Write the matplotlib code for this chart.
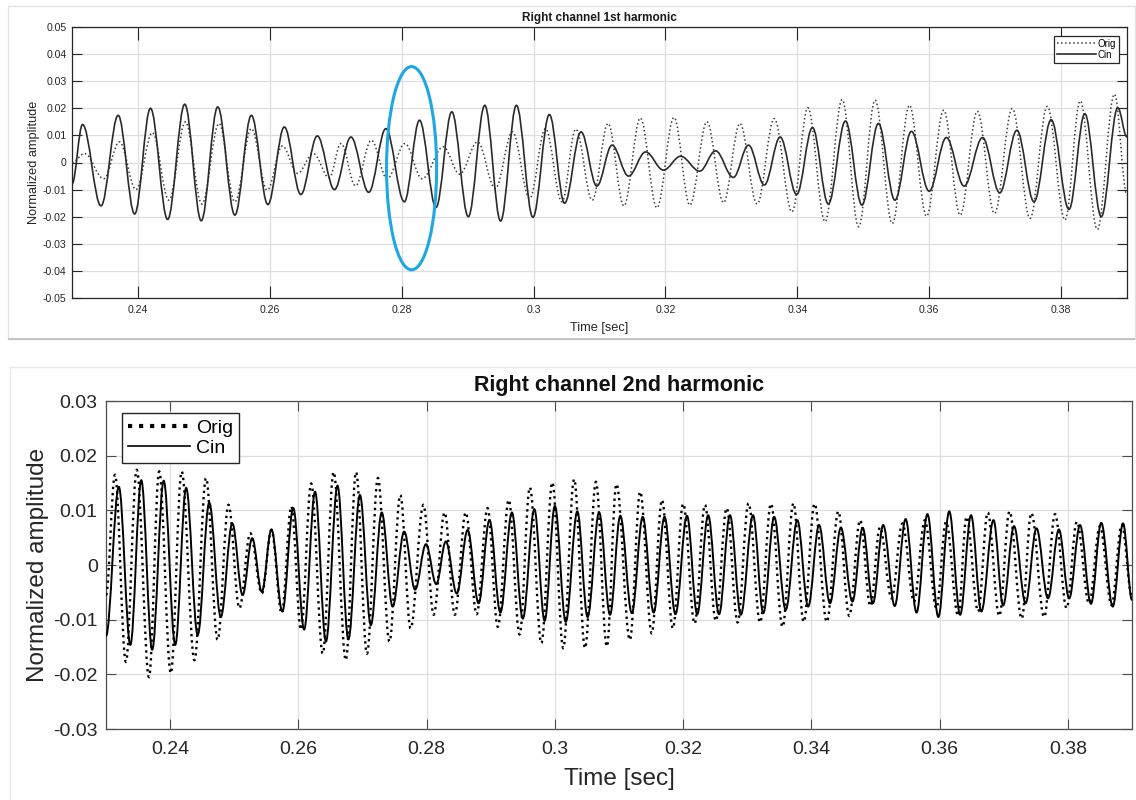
import numpy as np
import matplotlib
matplotlib.use("Agg")
import matplotlib.pyplot as plt
from matplotlib.path import Path
from matplotlib.patches import PathPatch, Ellipse, Rectangle
from matplotlib.lines import Line2D
from matplotlib.ticker import FuncFormatter

plt.rcParams['font.family'] = ['Liberation Sans', 'DejaVu Sans']

# extremes (peaks / troughs), time [s] and amplitude
h1_cin_t = [0.2300, 0.2316, 0.2344, 0.2370, 0.2395, 0.2419, 0.2445, 0.2471, 0.2496, 0.2521,
            0.2547, 0.2572, 0.2597, 0.2622, 0.2647, 0.2672, 0.2698, 0.2723, 0.2750, 0.2776,
            0.2804, 0.2827, 0.2852, 0.2876, 0.2901, 0.2926, 0.2950, 0.2974, 0.2999, 0.3024,
            0.3047, 0.3072, 0.3096, 0.3119, 0.3144, 0.3170, 0.3197, 0.3223, 0.3252, 0.3276,
            0.3303, 0.3326, 0.3350, 0.3374, 0.3399, 0.3423, 0.3447, 0.3473, 0.3498, 0.3523,
            0.3548, 0.3573, 0.3600, 0.3626, 0.3653, 0.3681, 0.3707, 0.3733, 0.3759, 0.3785,
            0.3812, 0.3836, 0.3861, 0.3886, 0.3900]
h1_cin_v = [-0.0080, 0.0140, -0.0160, 0.0174, -0.0190, 0.0200, -0.0210, 0.0215, -0.0215, 0.0205,
            -0.0194, 0.0174, -0.0155, 0.0131, -0.0118, 0.0098, -0.0100, 0.0094, -0.0110, 0.0125,
            -0.0145, 0.0156, -0.0166, 0.0187, -0.0200, 0.0211, -0.0216, 0.0211, -0.0202, 0.0177,
            -0.0150, 0.0113, -0.0087, 0.0064, -0.0050, 0.0039, -0.0028, 0.0023, -0.0032, 0.0043,
            -0.0055, 0.0064, -0.0083, 0.0094, -0.0118, 0.0129, -0.0153, 0.0153, -0.0157, 0.0144,
            -0.0139, 0.0115, -0.0106, 0.0092, -0.0087, 0.0092, -0.0112, 0.0119, -0.0145, 0.0158,
            -0.0173, 0.0180, -0.0200, 0.0202, 0.0094]

h1_orig_t = [0.2300, 0.2319, 0.2348, 0.2372, 0.2397, 0.2422, 0.2447, 0.2472, 0.2497, 0.2523,
             0.2547, 0.2572, 0.2596, 0.2619, 0.2642, 0.2666, 0.2690, 0.2708, 0.2730, 0.2754,
             0.2778, 0.2805, 0.2831, 0.2863, 0.2888, 0.2915, 0.2942, 0.2968, 0.2994, 0.3018,
             0.3043, 0.3064, 0.3089, 0.3113, 0.3137, 0.3162, 0.3187, 0.3213, 0.3237, 0.3263,
             0.3288, 0.3313, 0.3339, 0.3365, 0.3392, 0.3416, 0.3442, 0.3468, 0.3493, 0.3518,
             0.3544, 0.3570, 0.3596, 0.3622, 0.3647, 0.3673, 0.3699, 0.3726, 0.3753, 0.3779,
             0.3806, 0.3829, 0.3855, 0.3881, 0.3900]
h1_orig_v = [0.0000, 0.0033, -0.0060, 0.0076, -0.0100, 0.0110, -0.0139, 0.0150, -0.0153, 0.0144,
             -0.0145, 0.0125, -0.0102, 0.0061, -0.0040, 0.0033, -0.0056, 0.0070, -0.0086, 0.0082,
             -0.0060, 0.0070, -0.0060, 0.0058, -0.0043, 0.0076, -0.0096, 0.0113, -0.0133, 0.0125,
             -0.0145, 0.0123, -0.0139, 0.0144, -0.0160, 0.0164, -0.0167, 0.0166, -0.0157, 0.0150,
             -0.0148, 0.0144, -0.0153, 0.0162, -0.0182, 0.0202, -0.0218, 0.0232, -0.0237, 0.0230,
             -0.0225, 0.0211, -0.0198, 0.0193, -0.0194, 0.0189, -0.0188, 0.0199, -0.0206, 0.0207,
             -0.0212, 0.0227, -0.0247, 0.0252, -0.0120]

h2_cin_t = [0.2300, 0.2320, 0.2338, 0.2355, 0.2372, 0.2390, 0.2408, 0.2425, 0.2443, 0.2461,
            0.2479, 0.2497, 0.2513, 0.2528, 0.2543, 0.2558, 0.2575, 0.2592, 0.2609, 0.2626,
            0.2643, 0.2661, 0.2678, 0.2696, 0.2713, 0.2730, 0.2747, 0.2765, 0.2782, 0.2799,
            0.2815, 0.2830, 0.2847, 0.2864, 0.2881, 0.2898, 0.2915, 0.2933, 0.2950, 0.2968,
            0.2984, 0.3000, 0.3017, 0.3035, 0.3051, 0.3069, 0.3086, 0.3102, 0.3120, 0.3137,
            0.3154, 0.3171, 0.3188, 0.3206, 0.3222, 0.3239, 0.3256, 0.3273, 0.3290, 0.3309,
            0.3325, 0.3342, 0.3360, 0.3378, 0.3395, 0.3412, 0.3429, 0.3446, 0.3464, 0.3480,
            0.3496, 0.3512, 0.3530, 0.3547, 0.3564, 0.3581, 0.3598, 0.3615, 0.3632, 0.3649,
            0.3665, 0.3684, 0.3699, 0.3716, 0.3734, 0.3751, 0.3769, 0.3786, 0.3802, 0.3819,
            0.3836, 0.3852, 0.3870, 0.3886, 0.3900]
h2_cin_v = [-0.0130, 0.0143, -0.0146, 0.0155, -0.0155, 0.0154, -0.0146, 0.0141, -0.0128, 0.0114,
            -0.0095, 0.0076, -0.0055, 0.0049, -0.0049, 0.0065, -0.0085, 0.0104, -0.0118, 0.0134,
            -0.0140, 0.0145, -0.0136, 0.0128, -0.0110, 0.0096, -0.0076, 0.0061, -0.0045, 0.0038,
            -0.0035, 0.0043, -0.0052, 0.0064, -0.0070, 0.0082, -0.0087, 0.0096, -0.0098, 0.0102,
            -0.0102, 0.0108, -0.0104, 0.0098, -0.0095, 0.0096, -0.0091, 0.0090, -0.0088, 0.0088,
            -0.0087, 0.0088, -0.0090, 0.0090, -0.0090, 0.0091, -0.0090, 0.0091, -0.0091, 0.0091,
            -0.0088, 0.0088, -0.0082, 0.0082, -0.0076, 0.0073, -0.0070, 0.0068, -0.0067, 0.0068,
            -0.0070, 0.0073, -0.0075, 0.0084, -0.0087, 0.0093, -0.0095, 0.0098, -0.0091, 0.0091,
            -0.0085, 0.0082, -0.0074, 0.0071, -0.0070, 0.0067, -0.0061, 0.0065, -0.0061, 0.0073,
            -0.0071, 0.0077, -0.0076, 0.0076, -0.0064]

h2_orig_t = [0.2300, 0.2314, 0.2331, 0.2348, 0.2367, 0.2383, 0.2401, 0.2418, 0.2438, 0.2456,
             0.2474, 0.2491, 0.2508, 0.2525, 0.2543, 0.2558, 0.2574, 0.2589, 0.2604, 0.2620,
             0.2638, 0.2655, 0.2674, 0.2690, 0.2707, 0.2724, 0.2742, 0.2759, 0.2775, 0.2795,
             0.2811, 0.2828, 0.2844, 0.2861, 0.2878, 0.2895, 0.2911, 0.2928, 0.2945, 0.2961,
             0.2979, 0.2996, 0.3013, 0.3030, 0.3047, 0.3064, 0.3081, 0.3096, 0.3117, 0.3133,
             0.3151, 0.3167, 0.3184, 0.3200, 0.3218, 0.3234, 0.3251, 0.3268, 0.3285, 0.3302,
             0.3320, 0.3337, 0.3355, 0.3372, 0.3388, 0.3405, 0.3424, 0.3442, 0.3459, 0.3476,
             0.3492, 0.3507, 0.3525, 0.3542, 0.3560, 0.3577, 0.3595, 0.3610, 0.3629, 0.3642,
             0.3660, 0.3675, 0.3693, 0.3709, 0.3728, 0.3743, 0.3763, 0.3780, 0.3798, 0.3814,
             0.3833, 0.3850, 0.3868, 0.3884, 0.3900]
h2_orig_v = [-0.0055, 0.0165, -0.0177, 0.0174, -0.0205, 0.0171, -0.0198, 0.0171, -0.0174, 0.0159,
             -0.0137, 0.0110, -0.0079, 0.0058, -0.0052, 0.0064, -0.0088, 0.0107, -0.0118, 0.0149,
             -0.0162, 0.0170, -0.0174, 0.0170, -0.0162, 0.0159, -0.0140, 0.0128, -0.0116, 0.0110,
             -0.0091, 0.0096, -0.0091, 0.0096, -0.0090, 0.0104, -0.0113, 0.0119, -0.0127, 0.0142,
             -0.0143, 0.0151, -0.0152, 0.0157, -0.0152, 0.0152, -0.0149, 0.0148, -0.0137, 0.0134,
             -0.0125, 0.0119, -0.0116, 0.0112, -0.0107, 0.0110, -0.0102, 0.0104, -0.0105, 0.0113,
             -0.0105, 0.0112, -0.0113, 0.0113, -0.0104, 0.0112, -0.0104, 0.0098, -0.0093, 0.0082,
             -0.0075, 0.0069, -0.0061, 0.0076, -0.0067, 0.0082, -0.0079, 0.0079, -0.0093, 0.0088,
             -0.0085, 0.0096, -0.0093, 0.0098, -0.0098, 0.0095, -0.0095, 0.0093, -0.0079, 0.0079,
             -0.0070, 0.0071, -0.0073, 0.0073, -0.0058]

x_ticks = [0.24, 0.26, 0.28, 0.30, 0.32, 0.34, 0.36, 0.38]
h1_y_ticks = [-0.05, -0.04, -0.03, -0.02, -0.01, 0.0, 0.01, 0.02, 0.03, 0.04, 0.05]
h2_y_ticks = [-0.03, -0.02, -0.01, 0.0, 0.01, 0.02, 0.03]

# blue ellipse highlighting the 0.28 s region (centre, width, height in data units)
mark_center = (0.2815, -0.0021)
mark_size = (0.0076, 0.075)


def wave_path(t, v, k=0.3634):
    # cubic segments with flat tangents at every extreme -> smooth oscillation
    verts = [(t[0], v[0])]
    codes = [Path.MOVETO]
    for i in range(len(t) - 1):
        d = t[i + 1] - t[i]
        verts += [(t[i] + k * d, v[i]), (t[i + 1] - k * d, v[i + 1]), (t[i + 1], v[i + 1])]
        codes += [Path.CURVE4] * 3
    return Path(verts, codes)


def draw_wave(ax, t, v, **kw):
    patch = PathPatch(wave_path(t, v), fill=False, **kw)
    ax.add_patch(patch)
    return patch


def matlab_style(ax, yticks, fs, xlen, ylen, edge, xpad, ypad):
    ax.set_xlim(0.23, 0.39)
    ax.set_ylim(yticks[0], yticks[-1])
    ax.set_xticks(x_ticks)
    ax.set_yticks(yticks)
    fmt = FuncFormatter(lambda x, p: '%g' % round(x, 3))
    ax.xaxis.set_major_formatter(fmt)
    ax.yaxis.set_major_formatter(fmt)
    ax.tick_params(axis='x', direction='in', top=True, length=xlen, width=0.8,
                   color=edge, labelsize=fs, labelcolor='#262626', pad=xpad)
    ax.tick_params(axis='y', direction='in', right=True, length=ylen, width=0.8,
                   color=edge, labelsize=fs, labelcolor='#262626', pad=ypad)
    ax.grid(True, color='#dedede', linewidth=0.9)
    ax.set_axisbelow(True)
    for s in ax.spines.values():
        s.set_color(edge)
        s.set_linewidth(0.9)


fig = plt.figure(figsize=(11.36, 8.0), dpi=100)

# screenshot-like panel frames
fig.patches.append(Rectangle((8 / 1136, 1 - 339 / 800), 1127 / 1136, 333 / 800,
                             transform=fig.transFigure, fill=False, edgecolor='#e4e4e4', lw=1.0))
fig.patches.append(Rectangle((8 / 1136, 1 - 340 / 800), 1127 / 1136, 2 / 800,
                             transform=fig.transFigure, color='#c4c4c4', lw=0))
fig.patches.append(Rectangle((10 / 1136, -0.01), 1130 / 1136, 1 - 367 / 800 + 0.01,
                             transform=fig.transFigure, fill=False, edgecolor='#e8e8e8', lw=1.0))

# ---- 1st harmonic ----
ax1 = fig.add_axes([72 / 1136, 1 - 298 / 800, 1055 / 1136, 271 / 800])
matlab_style(ax1, h1_y_ticks, 7.6, 9, 7, '#262626', 5, 4)
draw_wave(ax1, h1_orig_t, h1_orig_v, edgecolor='#3c3c3c', linestyle=':', linewidth=1.1, zorder=3)
draw_wave(ax1, h1_cin_t, h1_cin_v, edgecolor='#2a2a2a', linestyle='-', linewidth=1.2, zorder=4)
ax1.set_title('Right channel 1st harmonic', fontsize=8.5, fontweight='bold', color='#1a1a1a', pad=4)
ax1.set_xlabel('Time [sec]', fontsize=9.2, color='#262626', labelpad=5)
ax1.set_ylabel('Normalized amplitude', fontsize=9.2, color='#262626', labelpad=2)
ax1.add_patch(Ellipse(mark_center, mark_size[0], mark_size[1], fill=False,
                      edgecolor='#1ea7e1', linewidth=2.2, zorder=6, clip_on=False))
h1_handles = [Line2D([0], [0], color='#3c3c3c', linestyle=':', linewidth=1.1, label='Orig'),
              Line2D([0], [0], color='#2a2a2a', linestyle='-', linewidth=1.2, label='Cin')]
leg1 = ax1.legend(handles=h1_handles, loc='upper right', bbox_to_anchor=(0.9924, 0.967),
                  borderaxespad=0, fontsize=7, fancybox=False, framealpha=1,
                  edgecolor='#262626', handlelength=4.0, handletextpad=0.2,
                  borderpad=0.3, labelspacing=0.1)
leg1.get_frame().set_linewidth(0.9)

# ---- 2nd harmonic ----
ax2 = fig.add_axes([106 / 1136, 1 - 729 / 800, 1026 / 1136, 328 / 800])
matlab_style(ax2, h2_y_ticks, 14, 7.5, 7.5, '#4d4d4d', 9, 6)
draw_wave(ax2, h2_orig_t, h2_orig_v, edgecolor='black', linestyle=':', linewidth=1.7, zorder=3)
draw_wave(ax2, h2_cin_t, h2_cin_v, edgecolor='black', linestyle='-', linewidth=1.4, zorder=4)
ax2.set_title('Right channel 2nd harmonic', fontsize=15.5, fontweight='bold', color='#111111', pad=7)
ax2.set_xlabel('Time [sec]', fontsize=17.5, color='#262626', labelpad=7)
ax2.set_ylabel('Normalized amplitude', fontsize=17.5, color='#262626', labelpad=3)
h2_handles = [Line2D([0], [0], color='black', linestyle=':', linewidth=3.0, label='Orig'),
              Line2D([0], [0], color='black', linestyle='-', linewidth=1.2, label='Cin')]
leg2 = ax2.legend(handles=h2_handles, loc='upper left', bbox_to_anchor=(0.0156, 0.963),
                  borderaxespad=0, fontsize=14, fancybox=False, framealpha=1,
                  edgecolor='#262626', handlelength=3.2, handletextpad=0.3,
                  borderpad=0.3, labelspacing=0.15)
leg2.get_frame().set_linewidth(1.0)

fig.savefig('out.png', dpi=100)
